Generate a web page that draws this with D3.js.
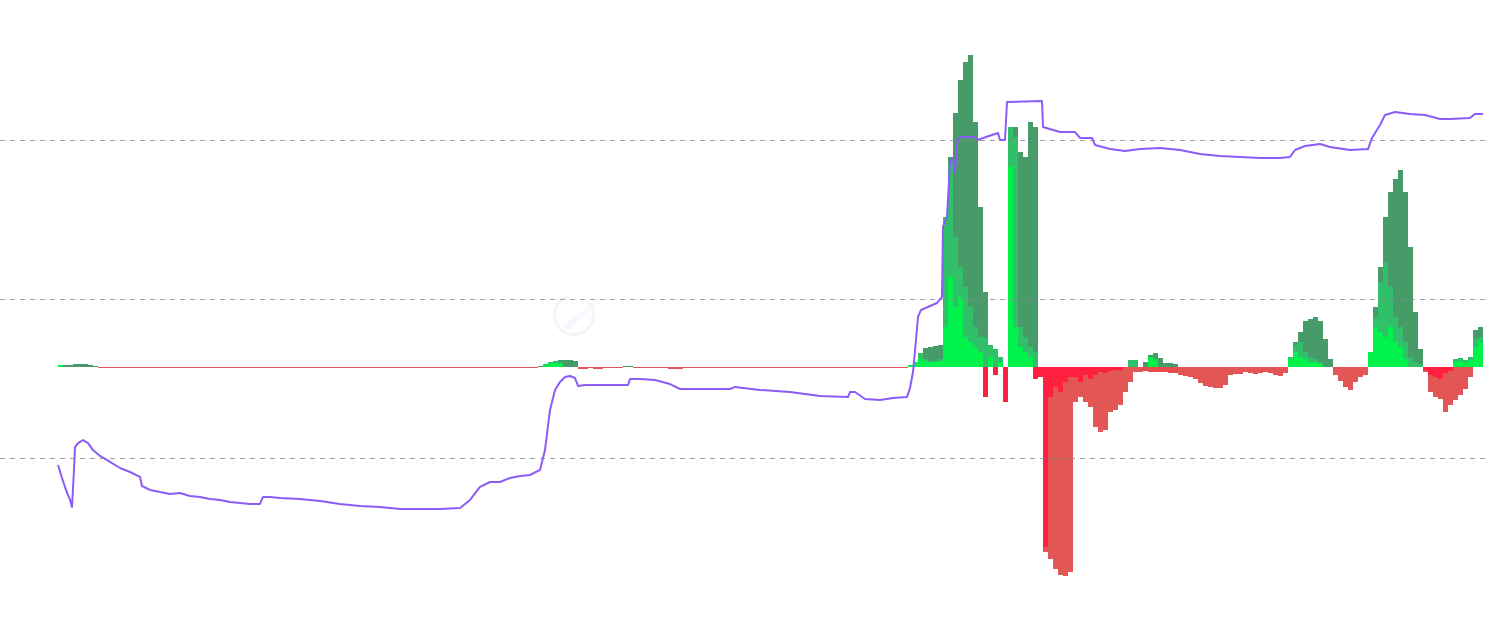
<!DOCTYPE html>
<html>
<head>
<meta charset="utf-8">
<script src="https://cdn.jsdelivr.net/npm/d3@7"></script>
<style>
  html, body { margin: 0; padding: 0; background: #ffffff; }
  svg { display: block; }
</style>
</head>
<body>
<svg id="chart" width="1490" height="633"></svg>
<script>
// ---------------- DATA ----------------
// Histogram bars: one value per time step (step = 5 time units)
const slowHist = [
  1,2,2,3,3,3,2,1,-1,-1,
  -1,-1,-1,-1,-1,-1,-1,-1,-1,-1,
  -1,-1,-1,-1,-1,-1,-1,-1,-1,-1,
  -1,-1,-1,-1,-1,-1,-1,-1,-1,-1,
  -1,-1,-1,-1,-1,-1,-1,-1,-1,-1,
  -1,-1,-1,-1,-1,-1,-1,-1,-1,-1,
  -1,-1,-1,-1,-1,-1,-1,-1,-1,-1,
  -1,-1,-1,-1,-1,-1,-1,-1,-1,-1,
  -1,-1,-1,-1,-1,-1,-1,-1,-1,-1,
  -1,-1,-1,-1,-1,-1,1,2,4,6,
  7,7,7,6,-2,-2,-1,-2,-2,-1,
  -1,-1,-1,1,1,-1,-1,-1,-1,-1,
  -1,-1,-2,-2,-2,-1,-1,-1,-1,-1,
  -1,-1,-1,-1,-1,-1,-1,-1,-1,-1,
  -1,-1,-1,-1,-1,-1,-1,-1,-1,-1,
  -1,-1,-1,-1,-1,-1,-1,-1,-1,-1,
  -1,-1,-1,-1,-1,-1,-1,-1,-1,-1,
  0,2,10,19,20,21,22,120,210,254,
  287,305,312,245,160,75,12,8,5,-3,
  230,240,215,210,245,240,-8,-185,-192,-202,
  -208,-209,-205,-35,-30,-35,-40,-60,-65,-63,
  -45,-43,-38,-25,-15,-5,-5,5,12,14,
  9,4,4,3,-8,-9,-10,-12,-16,-19,
  -20,-21,-21,-18,-8,-7,-7,-5,-6,-7,
  -6,-5,-6,-8,-9,-6,5,25,35,46,
  48,50,46,28,8,-8,-14,-20,-23,-15,
  -10,-8,8,60,100,150,175,188,197,175,
  120,55,18,-5,-25,-30,-32,-45,-38,-33,
  -28,-22,-10,37,40
];
const midHist = [
  0,0,0,0,0,0,0,0,0,0,
  0,0,0,0,0,0,0,0,0,0,
  0,0,0,0,0,0,0,0,0,0,
  0,0,0,0,0,0,0,0,0,0,
  0,0,0,0,0,0,0,0,0,0,
  0,0,0,0,0,0,0,0,0,0,
  0,0,0,0,0,0,0,0,0,0,
  0,0,0,0,0,0,0,0,0,0,
  0,0,0,0,0,0,0,0,0,0,
  0,0,0,0,0,0,0,3,5,6,
  5,0,0,0,0,0,0,0,0,0,
  0,0,0,0,0,0,0,0,0,0,
  0,0,0,0,0,0,0,0,0,0,
  0,0,0,0,0,0,0,0,0,0,
  0,0,0,0,0,0,0,0,0,0,
  0,0,0,0,0,0,0,0,0,0,
  0,0,0,0,0,0,0,0,0,0,
  0,3,14,8,6,6,8,150,205,130,
  100,80,60,40,30,30,22,18,10,0,
  240,230,40,30,20,15,0,0,0,0,
  0,0,0,0,0,0,0,0,0,0,
  0,0,0,0,7,7,0,-4,-5,-5,
  -5,-5,-6,-6,0,0,0,0,0,0,
  0,0,0,0,0,0,0,0,0,0,
  0,0,0,0,0,0,10,22,25,15,
  10,8,5,0,0,0,0,0,0,0,
  0,0,12,50,85,105,80,50,40,25,
  10,5,3,0,0,0,0,0,0,8,
  9,7,10,28,30
];
const fastHist = [
  2,0,0,0,0,0,0,0,0,0,
  0,0,0,0,0,0,0,0,0,0,
  0,0,0,0,0,0,0,0,0,0,
  0,0,0,0,0,0,0,0,0,0,
  0,0,0,0,0,0,0,0,0,0,
  0,0,0,0,0,0,0,0,0,0,
  0,0,0,0,0,0,0,0,0,0,
  0,0,0,0,0,0,0,0,0,0,
  0,0,0,0,0,0,0,0,0,0,
  0,0,0,0,0,0,0,2,4,4,
  3,0,0,0,0,0,0,0,0,0,
  0,0,0,0,0,0,0,0,0,0,
  0,0,0,0,0,0,0,0,0,0,
  0,0,0,0,0,0,0,0,0,0,
  0,0,0,0,0,0,0,0,0,0,
  0,0,0,0,0,0,0,0,0,0,
  0,0,0,0,0,0,0,0,0,0,
  2,5,8,6,5,5,6,40,90,60,
  70,30,25,20,15,-30,10,-8,5,-35,
  200,40,20,15,10,-12,-10,-180,-30,-20,
  -25,-15,-10,-10,-15,-8,-12,-8,-5,-6,
  -4,-3,-3,0,0,0,0,0,10,8,
  0,0,0,0,0,0,0,0,0,0,
  0,0,0,0,0,0,0,0,0,0,
  0,0,0,0,0,0,8,15,10,8,
  5,5,3,0,0,0,0,0,0,0,
  0,0,15,40,35,30,40,25,20,8,
  0,0,0,-3,-8,-10,-12,-6,-4,5,
  6,4,7,20,25
];
const histStep = 5;

// Price line: time points and values
const priceT = [0,4,8,12,14,16,17,20,25,30,35,42,52,62,72,82,84,92,102,112,
  122,132,142,152,162,172,182,192,202,205,212,222,242,262,282,302,322,342,362,382,
  402,412,422,432,442,452,462,472,482,487,492,497,502,507,512,517,520,527,542,570,
  572,582,597,612,622,642,672,677,702,732,762,790,792,797,807,822,835,849,852,855,
  858,860,863,879,884,885,889,892,895,897,899,902,917,920,925,940,942,947,949,984,
  985,1002,1017,1022,1034,1037,1052,1067,1082,1102,1122,1142,1162,1182,1202,1222,1232,1237,1247,1262,
  1272,1292,1310,1314,1322,1327,1337,1352,1367,1382,1392,1412,1417,1425];
const priceV = [95.6,87.4,79.9,73.6,69.2,92.5,106.9,109.4,111.3,109.4,105.0,101.3,97.5,93.7,91.2,88.1,82.4,79.9,78.6,77.4,
  78.0,76.1,75.5,74.2,73.6,72.3,71.7,71.1,71.1,75.5,75.5,74.8,74.2,73.0,71.1,69.8,69.2,67.9,67.9,67.9,
  68.6,73.6,81.8,84.9,84.9,87.4,88.7,89.3,92.5,105.0,130.2,142.8,147.8,150.9,151.6,150.3,145.3,145.9,145.9,145.9,
  149.7,149.7,149.1,146.5,143.4,143.4,143.4,144.7,142.8,141.5,139.0,138.4,141.5,141.5,137.1,136.5,137.7,138.4,144.0,154.1,
  174.2,188.7,193.1,197.5,201.3,245.3,251.6,285.5,288.7,279.2,298.1,301.9,301.9,300.0,301.3,304.4,300.0,300.0,323.9,324.5,
  308.2,305.0,305.0,301.3,301.3,296.9,294.3,293.1,294.3,295.0,293.7,291.2,289.9,289.3,288.7,288.7,289.3,293.7,296.2,297.5,
  295.6,293.7,294.3,301.3,309.4,315.7,317.6,316.4,315.7,313.2,313.2,313.8,316.4,316.4];
const priceTicks = [100, 200, 300];

// Colours
const colSlowPos = "#479b68", colSlowNeg = "#e35656";
const colMidPos = "#30c06a", colMidNeg = "#e84b4b";
const colFastPos = "#00f24b", colFastNeg = "#ff1f3f";

// ---------------- CHART ----------------
const svg = d3.select("#chart");
const W = 1490, H = 633;
svg.append("rect").attr("width", W).attr("height", H).attr("fill", "#ffffff");

const x = d3.scaleLinear().domain([0, 1425]).range([58, 1483]);
const hy = d3.scaleLinear().domain([-250, 367]).range([617, 0]);
const py = d3.scaleLinear().domain([0, 617 / 1.59]).range([617, 0]);

// faint watermark logo
const wm = svg.append("g").attr("opacity", 0.35);
wm.append("path")
  .attr("d", d3.arc()({innerRadius: 18, outerRadius: 21, startAngle: 0.9, endAngle: 2 * Math.PI - 0.3}))
  .attr("transform", "translate(574,315)")
  .attr("fill", "#e2e2ea");
const grad = svg.append("defs").append("linearGradient").attr("id", "wmg")
  .attr("x1", "0%").attr("y1", "100%").attr("x2", "100%").attr("y2", "0%");
grad.append("stop").attr("offset", "0%").attr("stop-color", "#d8e4ff");
grad.append("stop").attr("offset", "100%").attr("stop-color", "#f0e6ff").attr("stop-opacity", 0.2);
wm.append("path")
  .attr("d", "M562,326 L606,292 L609,295 L568,330 Z")
  .attr("fill", "url(#wmg)");

function drawHist(data, pos, neg) {
  svg.append("g").attr("shape-rendering", "crispEdges")
    .selectAll("rect").data(data).join("rect")
    .attr("x", (d, i) => x(i * histStep))
    .attr("width", x(histStep) - x(0))
    .attr("y", d => Math.min(hy(d), hy(0)))
    .attr("height", d => Math.abs(hy(d) - hy(0)))
    .attr("fill", d => d >= 0 ? pos : neg);
}
drawHist(slowHist, colSlowPos, colSlowNeg);
drawHist(midHist, colMidPos, colMidNeg);
drawHist(fastHist, colFastPos, colFastNeg);

// dashed gridlines from price axis
const grid = svg.append("g")
  .call(d3.axisLeft(py).tickValues(priceTicks).tickSize(-1485).tickFormat(""));
grid.select(".domain").remove();
grid.selectAll(".tick line")
  .attr("stroke", "#8a8a8a")
  .attr("stroke-dasharray", "5,5")
  .attr("stroke-opacity", 0.8);

// price line
const pts = priceT.map((t, i) => [t, priceV[i]]);
svg.append("path")
  .datum(pts)
  .attr("fill", "none")
  .attr("stroke", "#8b5cf6")
  .attr("stroke-width", 2)
  .attr("stroke-linejoin", "round")
  .attr("d", d3.line().x(d => x(d[0])).y(d => py(d[1])));
</script>
</body>
</html>
